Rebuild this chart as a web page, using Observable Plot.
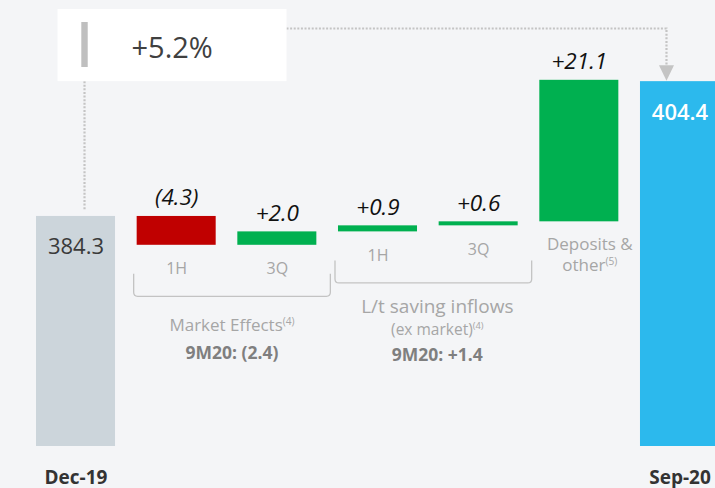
<!DOCTYPE html>
<html>
<head>
<meta charset="utf-8">
<script src="https://cdn.jsdelivr.net/npm/d3@7"></script>
<script src="https://cdn.jsdelivr.net/npm/@observablehq/plot@0.6"></script>
<style>
  html, body { margin: 0; padding: 0; background: #f4f5f7; overflow: hidden; }
  #chart svg { display: block; }
</style>
</head>
<body>
<div id="chart"></div>
<script>
// ---------- data ----------
const steps = ["Dec-19", "Market 1H", "Market 3Q", "Inflows 1H", "Inflows 3Q", "Deposits & other", "Sep-20"];
const stepKinds = ["total", "delta", "delta", "delta", "delta", "delta", "total"];
const stepValues = [384.3, -4.3, 2.0, 0.9, 0.6, 21.1, 404.4];
const valueLabels = ["384.3", "(4.3)", "+2.0", "+0.9", "+0.6", "+21.1", "404.4"];
const subLabels = ["", "1H", "3Q", "1H", "3Q", "", ""];
const axisLabels = ["Dec-19", "", "", "", "", "", "Sep-20"];
const depositsLabel = ["Deposits &", "other"];
const depositsNote = "(5)";
const groupSteps = [["Market 1H", "Market 3Q"], ["Inflows 1H", "Inflows 3Q"]];
const groupTitles = ["Market Effects", "L/t saving inflows"];
const groupSubtitles = ["", "(ex market)"];
const groupNotes = ["(4)", "(4)"];
const groupTotals = ["9M20: (2.4)", "9M20: +1.4"];
const changeLabel = "+5.2%";
const axisBreak = 350;   // broken value axis starts here
const yTop = 416.5;

// ---------- waterfall rows ----------
let running = 0;
const rows = steps.map((step, i) => {
  const kind = stepKinds[i], v = stepValues[i];
  let from, to;
  if (kind === "total") { from = axisBreak; to = v; running = v; }
  else { from = running; to = running + v; running = to; }
  return {step, kind, i, v, from, to, top: Math.max(from, to), bottom: Math.min(from, to),
          label: valueLabels[i], sub: subLabels[i], axis: axisLabels[i]};
});
const fillOf = d => d.kind === "total" ? (d.i === 0 ? "#ccd5db" : "#2cb9ed") : (d.v < 0 ? "#c00000" : "#00b050");

const FONT = "'Segoe UI', 'Open Sans', sans-serif";

const chart = Plot.plot({
  width: 715,
  height: 488,
  marginTop: 0,
  marginBottom: 42,
  marginLeft: 0,
  marginRight: 0,
  style: {background: "transparent", fontFamily: FONT, overflow: "hidden"},
  x: {domain: steps, range: [36, 719], paddingInner: 0.215, paddingOuter: 0, round: false, axis: null},
  y: {domain: [axisBreak, yTop], axis: null},
  color: {type: "identity"},
  marks: [
    Plot.barY(rows, {x: "step", y1: "from", y2: "to", fill: fillOf}),
    Plot.text(rows.filter(d => d.kind === "delta"), {
      x: "step", y: "top", text: "label", dy: -11, lineAnchor: "bottom",
      fontSize: 22.5, fontStyle: "italic", fill: "#111"
    }),
    Plot.text(rows.filter(d => d.kind === "total" && d.i === 0), {
      x: "step", y: "top", text: "label", dy: 38, lineAnchor: "bottom",
      fontSize: 22, fill: "#3a3a3a"
    }),
    Plot.text(rows.filter(d => d.kind === "total" && d.i !== 0), {
      x: "step", y: "top", text: "label", dy: 38, lineAnchor: "bottom",
      fontSize: 22, fontWeight: 600, fill: "#ffffff"
    }),
    Plot.text(rows.filter(d => d.sub), {
      x: "step", y: "bottom", text: "sub", dy: 29, lineAnchor: "bottom",
      fontSize: 16, fill: "#a6a6a6"
    }),
    Plot.text(rows.filter(d => d.axis), {
      x: "step", frameAnchor: "bottom", text: "axis", dy: 37, lineAnchor: "bottom",
      fontSize: 19, fontWeight: 700, fill: "#333333"
    })
  ]
});

// ---------- annotations drawn with the chart's own scales ----------
const xs = chart.scale("x"), ys = chart.scale("y");
const X = v => xs.apply(v);
const BW = xs.bandwidth;
const Y = v => ys.apply(v);
const svg = d3.select(chart);
const g = svg.append("g").attr("font-family", FONT);

function supText(parent, x, y, main, note, size, fill, weight) {
  const t = parent.append("text").attr("x", x).attr("y", y).attr("text-anchor", "middle")
    .attr("font-size", size).attr("fill", fill).attr("font-weight", weight || 400);
  t.append("tspan").text(main);
  if (note) t.append("tspan").attr("font-size", size * 0.6).attr("dy", -size * 0.38).text(note);
  return t;
}

// Deposits & other label
{
  const d = rows[5];
  const cx = X(d.step) + BW / 2 + 11;
  const yb = Y(d.bottom);
  supText(g, cx, yb + 29, depositsLabel[0], "", 17, "#a6a6a6");
  supText(g, cx, yb + 50, depositsLabel[1], depositsNote, 17, "#a6a6a6");
}

// group brackets and labels
groupSteps.forEach((gs, k) => {
  const x1 = X(gs[0]) - 3, x2 = X(gs[gs.length - 1]) + BW + 14;
  const yb = d3.max(gs, s => Y(rows.find(r => r.step === s).bottom));
  const top = yb + 29, bot = yb + 51.5, r = 4;
  g.append("path")
    .attr("d", `M${x1},${top} L${x1},${bot - r} Q${x1},${bot} ${x1 + r},${bot} L${x2 - r},${bot} Q${x2},${bot} ${x2},${bot - r} L${x2},${top}`)
    .attr("fill", "none").attr("stroke", "#c3c3c3").attr("stroke-width", 1.3);
  const cx = (x1 + x2) / 2;
  if (groupSubtitles[k]) {
    supText(g, cx + 4, bot + 30, groupTitles[k], "", 19, "#a6a6a6");
    supText(g, cx + 4, bot + 52, groupSubtitles[k], groupNotes[k], 15.5, "#a6a6a6");
    supText(g, cx + 4, bot + 78, groupTotals[k], "", 17.5, "#7f7f7f", 700);
  } else {
    supText(g, cx, bot + 35, groupTitles[k], groupNotes[k], 17, "#a6a6a6");
    supText(g, cx, bot + 63, groupTotals[k], "", 17.5, "#7f7f7f", 700);
  }
});

// +5.2% box and connector
{
  const first = rows[0], last = rows[rows.length - 1];
  const lx = X(first.step) + BW / 2 + 9;          // connector x at start
  const rx = X(last.step) + BW / 2 - 13;          // connector x at end
  const boxTop = Y(yTop) + 9, boxBottom = Y(last.top);
  const boxLeft = lx - 27, boxRight = boxLeft + 229;
  const lineY = boxTop + 19.5;
  const dot = {stroke: "#c4c4c4", "stroke-width": 2.2, "stroke-dasharray": "2,1.6", fill: "none"};
  const line = (pts) => { const p = g.append("path").attr("d", d3.line()(pts)); for (const k in dot) p.attr(k, dot[k]); };
  line([[lx, boxBottom], [lx, Y(first.top) - 6]]);
  line([[boxRight, lineY], [rx, lineY], [rx, Y(last.top) - 16]]);
  g.append("path")
    .attr("d", `M${rx - 7.5},${Y(last.top) - 16} L${rx + 7.5},${Y(last.top) - 16} L${rx},${Y(last.top) - 0.5} Z`)
    .attr("fill", "#c4c4c4");
  g.append("rect").attr("x", boxLeft).attr("y", boxTop).attr("width", boxRight - boxLeft)
    .attr("height", boxBottom - boxTop).attr("fill", "#ffffff");
  g.append("rect").attr("x", lx - 3.2).attr("y", boxTop + 13).attr("width", 6.4)
    .attr("height", 45).attr("fill", "#bfbfbf");
  g.append("text").attr("x", boxLeft + 74).attr("y", boxTop + 49).attr("font-size", 29)
    .attr("text-anchor", "start").attr("fill", "#404040").text(changeLabel);
}

document.getElementById("chart").appendChild(chart);
</script>
</body>
</html>
